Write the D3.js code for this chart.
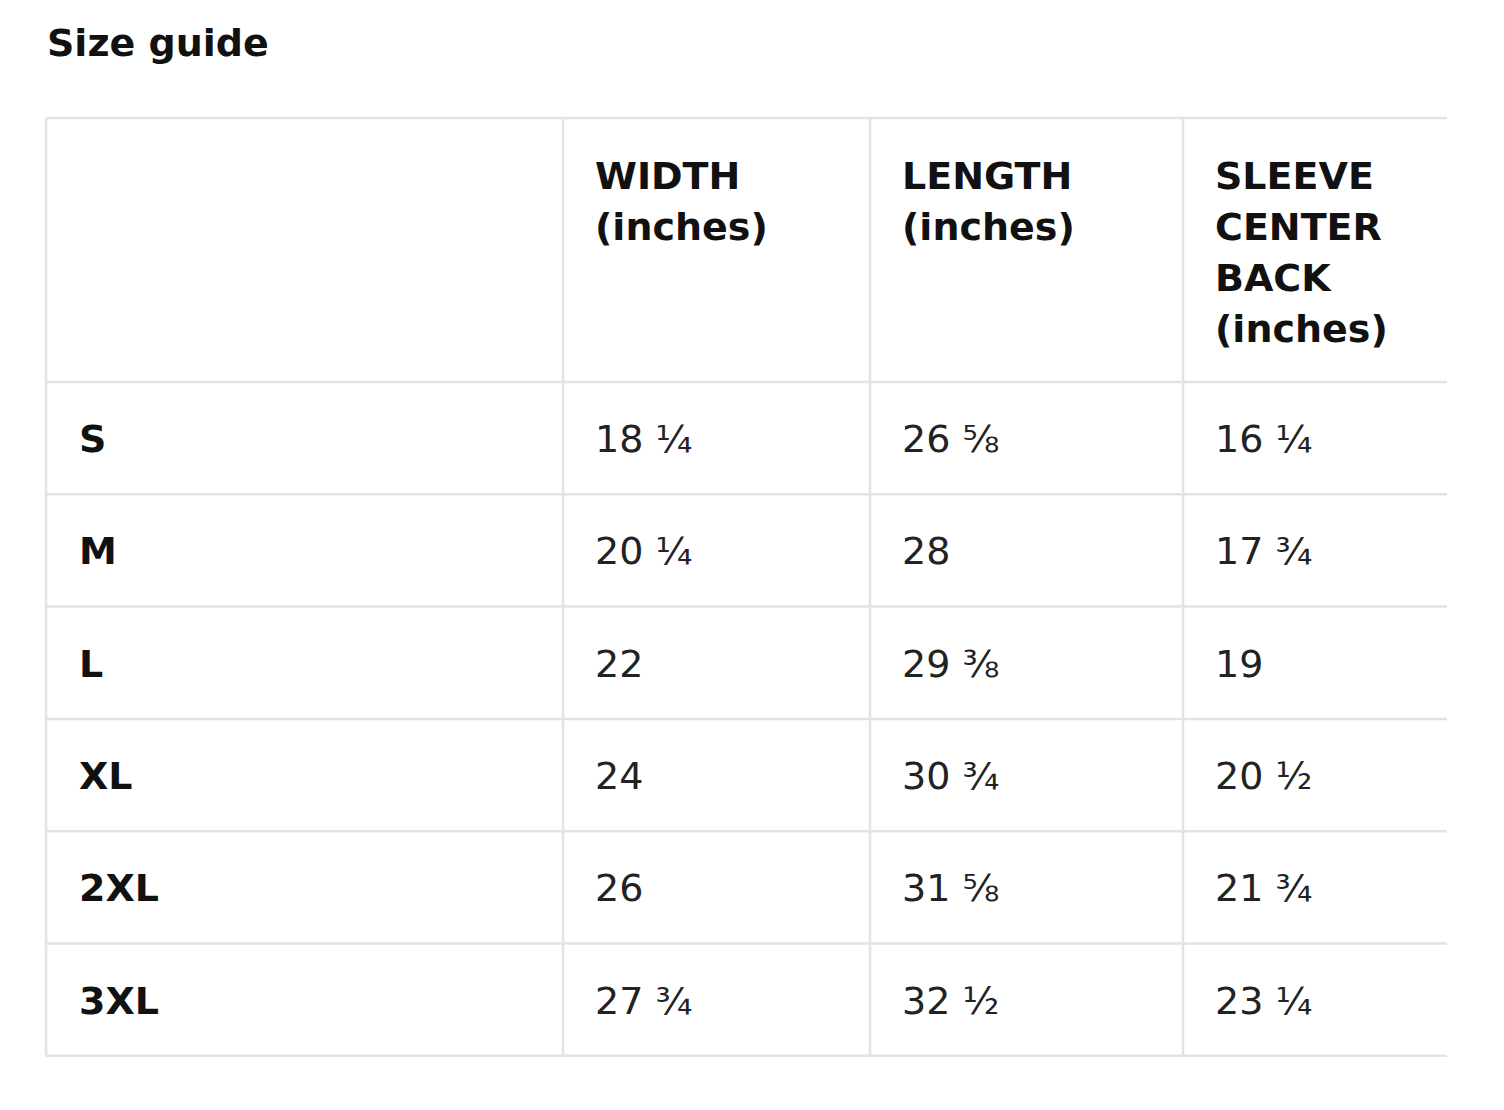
<!DOCTYPE html>
<html><head><meta charset="utf-8">
<script src="https://cdn.jsdelivr.net/npm/d3@7"></script>
<style>body{margin:0;background:#fff}</style>
</head><body>
<script>
const title = "Size guide";
const headers = [["WIDTH", "(inches)"], ["LENGTH", "(inches)"], ["SLEEVE", "CENTER", "BACK", "(inches)"]];
const sizes = ["S", "M", "L", "XL", "2XL", "3XL"];
const widthVals = ["18 ¼", "20 ¼", "22", "24", "26", "27 ¾"];
const lengthVals = ["26 ⅝", "28", "29 ⅜", "30 ¾", "31 ⅝", "32 ½"];
const sleeveVals = ["16 ¼", "17 ¾", "19", "20 ½", "21 ¾", "23 ¼"];
const columns = [widthVals, lengthVals, sleeveVals];

const W = 1504, H = 1110;
const svg = d3.select("body").append("svg").attr("width", W).attr("height", H)
  .style("font-family", "'DejaVu Sans', sans-serif");

svg.append("text").attr("x", 47).attr("y", 56).attr("font-size", 38).attr("font-weight", "bold")
  .attr("fill", "#111").text(title);

const colX = [46, 563, 870, 1183, 1447];
const headTop = 118, headBottom = 382, rowH = 112.3;
const y = d3.scaleBand().domain(sizes).range([headBottom, headBottom + rowH * sizes.length]);
const line = "#e3e3e3";

// horizontal lines
const hy = [headTop, headBottom].concat(sizes.map(s => y(s) + y.bandwidth()));
svg.selectAll(".hl").data(hy).join("line")
  .attr("x1", colX[0]).attr("x2", colX[4]).attr("y1", d => d).attr("y2", d => d)
  .attr("stroke", line).attr("stroke-width", 2.5);
// vertical lines
svg.selectAll(".vl").data(colX.slice(0, 4)).join("line")
  .attr("x1", d => d).attr("x2", d => d).attr("y1", headTop).attr("y2", hy[hy.length - 1])
  .attr("stroke", line).attr("stroke-width", 2.5);

// headers
headers.forEach((h, i) => {
  h.forEach((t, j) => {
    svg.append("text").attr("x", colX[i + 1] + 32).attr("y", 189 + j * 51)
      .attr("font-size", 38).attr("font-weight", "bold").attr("fill", "#111").text(t);
  });
});

// row labels
svg.selectAll(".lab").data(sizes).join("text")
  .attr("x", 79).attr("y", d => y(d) + y.bandwidth() / 2 + 14)
  .attr("font-size", 38).attr("font-weight", "bold").attr("fill", "#111").text(d => d);

// values
columns.forEach((vals, i) => {
  svg.selectAll(".v" + i).data(vals).join("text")
    .attr("x", colX[i + 1] + 32).attr("y", (d, k) => y(sizes[k]) + y.bandwidth() / 2 + 14)
    .attr("font-size", 38).attr("fill", "#222").text(d => d);
});
</script>
</body></html>
